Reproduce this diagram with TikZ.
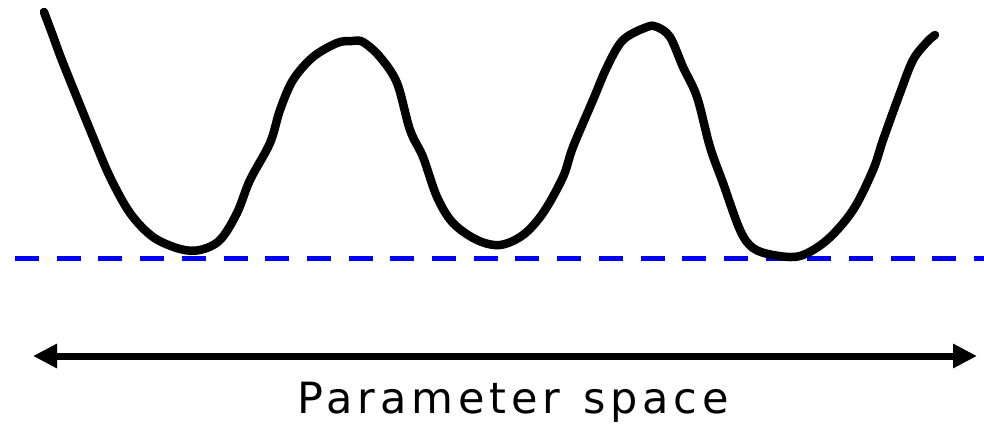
\documentclass[tikz,border=0pt]{standalone}
\usepackage{fontspec}
\setmainfont{DejaVu Sans}
\usetikzlibrary{arrows.meta}
\definecolor{dashblue}{RGB}{0,0,255}
\tikzset{
  curve/.style={line width=8.5pt, line cap=round, line join=round, black},
  baseline dash/.style={dashblue, line width=5pt, dash pattern=on 24pt off 17.7pt},
  axisarrow/.style={line width=7pt, {Triangle[length=24pt,width=23pt]}-{Triangle[length=24pt,width=23pt]}},
}
\begin{document}
\begin{tikzpicture}[x=1pt,y=-1pt]
\useasboundingbox (0,0) rectangle (984,425);
\draw[baseline dash] (15,258) -- (984,258);
\draw[curve] plot[smooth, tension=0.55] coordinates {
 (44,12) (53,36) (63,63) (93,137) (110,177) (130,213) (153,237) (180,249) (200,250)
 (220,240) (237,213) (250,180) (270,143) (280,110) (293,80) (313,57) (337,43) (352,41)
 (363,42) (380,57) (397,83) (410,130) (423,157) (437,197) (453,223) (477,240) (500,245)
 (523,235) (543,213) (563,177) (573,147) (593,100) (607,67) (623,40) (647,27) (657,27)
 (670,37) (683,67) (697,97) (710,147) (723,183) (740,230) (753,248) (773,255) (800,256)
 (827,240) (853,210) (873,170) (883,140) (900,93) (913,60) (927,42) (935,35)};
\coordinate (L) at (33,356);
\coordinate (R) at (977,356);
\draw[axisarrow] (L) -- (R);
\node[anchor=base west, inner sep=0pt, font=\fontsize{43}{46}\selectfont\addfontfeatures{LetterSpace=11.5}] (label) at (297,413) {Parameter\hspace{4pt} space};
\end{tikzpicture}
\end{document}
